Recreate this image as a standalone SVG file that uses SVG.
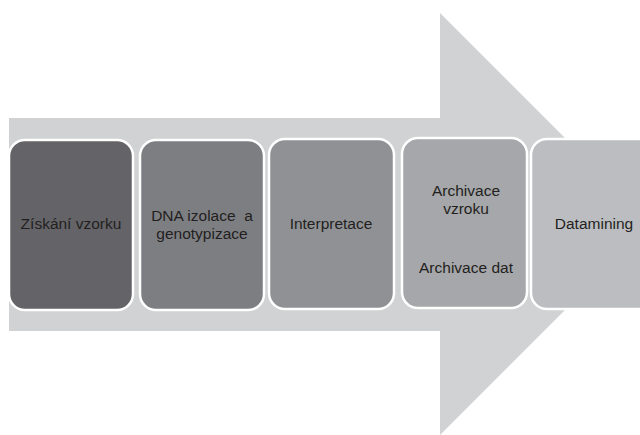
<svg xmlns="http://www.w3.org/2000/svg" width="640" height="435" viewBox="0 0 640 435">
<style>
.box{stroke:#ffffff;stroke-width:2.5}
.t{font-family:"Liberation Sans",Arial,sans-serif;font-size:15.5px;fill:#231f20;text-anchor:middle}
</style>
<rect width="640" height="435" fill="#ffffff"/>
<g id="arrow">
<path d="M9,118 H440 V13 L651,224 L440,435 V331 H9 Z" fill="#d1d2d4"/>
</g>
<g id="node1">
<rect class="box" x="9" y="140" width="124" height="170" rx="16" fill="#646468"/>
<text class="t" x="71" y="229">Získání vzorku</text>
</g>
<g id="node2">
<rect class="box" x="140" y="140" width="124" height="170" rx="16" fill="#7d7e82"/>
<text class="t" x="202" y="221" xml:space="preserve">DNA izolace  a</text>
<text class="t" x="202" y="239">genotypizace</text>
</g>
<g id="node3">
<rect class="box" x="269" y="139" width="125" height="170" rx="16" fill="#909195"/>
<text class="t" x="331" y="229">Interpretace</text>
</g>
<g id="node4">
<rect class="box" x="402" y="138" width="125" height="170" rx="16" fill="#a6a7aa"/>
<text class="t" x="466" y="196">Archivace</text>
<text class="t" x="466" y="214">vzroku</text>
<text class="t" x="466" y="273">Archivace dat</text>
</g>
<g id="node5">
<rect class="box" x="531" y="139" width="125" height="170" rx="16" fill="#bcbdc0"/>
<text class="t" x="594" y="229">Datamining</text>
</g>
<g id="connectors"/>
</svg>
